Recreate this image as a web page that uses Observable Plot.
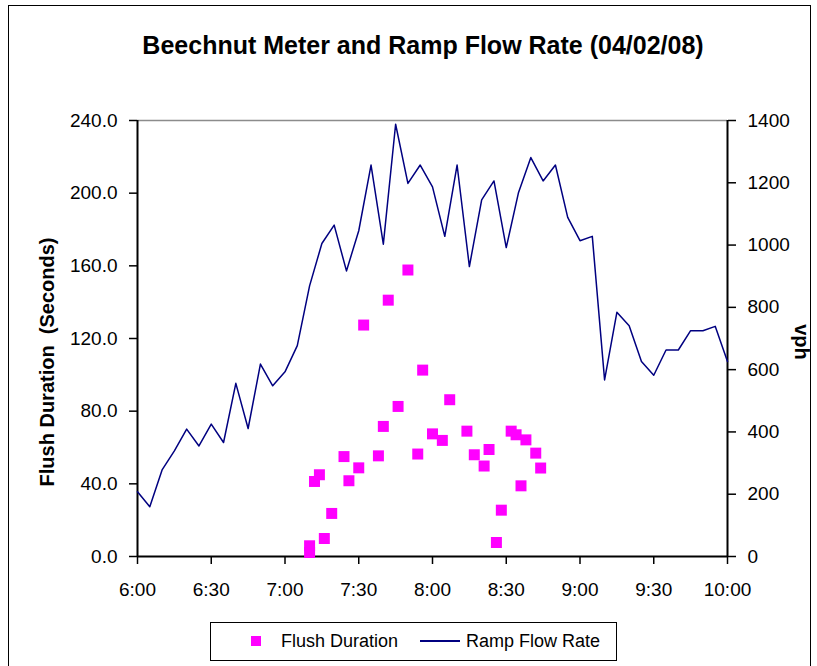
<!DOCTYPE html>
<html>
<head>
<meta charset="utf-8">
<script src="https://cdn.jsdelivr.net/npm/d3@7"></script>
<script src="https://cdn.jsdelivr.net/npm/@observablehq/plot@0.6"></script>
<style>
  html, body { margin: 0; padding: 0; background: #fff; }
  #wrap { position: relative; width: 817px; height: 666px; overflow: hidden; font-family: Arial, "Liberation Sans", sans-serif; }
  #frame { position: absolute; left: 8px; top: 5px; width: 803px; height: 700px; border: 1.5px solid #000; box-sizing: border-box; }
  #title { position: absolute; left: 137px; width: 572px; top: 33px; line-height: 25px; text-align: center; font-weight: bold; font-size: 25px; white-space: nowrap; }
  #ylab { position: absolute; left: 47px; top: 362px; transform: translate(-50%, -50%) rotate(-90deg); white-space: pre; font-weight: bold; font-size: 20px; }
  #y2lab { position: absolute; left: 801px; top: 342px; transform: translate(-50%, -50%) rotate(90deg); font-weight: bold; font-size: 20px; }
  #legend { position: absolute; left: 210px; top: 622px; width: 407px; height: 39px; border: 1.5px solid #000; box-sizing: border-box; font-size: 18px; }
  #legend .item { position: absolute; top: 0; height: 36px; display: flex; align-items: center; }
  #plot { position: absolute; left: 0; top: 0; }
</style>
</head>
<body>
<div id="wrap">
  <div id="frame"></div>
  <div id="plot"></div>
  <div id="title"></div>
  <div id="ylab"></div>
  <div id="y2lab"></div>
  <div id="legend"></div>
</div>
<script>
// ---- data ----
const titleText = "Beechnut Meter and Ramp Flow Rate (04/02/08)";
const leftTitle = "Flush Duration  (Seconds)";
const rightTitle = "vph";
const seriesNames = ["Flush Duration", "Ramp Flow Rate"];

const xTickLabels = ["6:00","6:30","7:00","7:30","8:00","8:30","9:00","9:30","10:00"];
const leftTicks = [0, 40, 80, 120, 160, 200, 240];
const rightTicks = [0, 200, 400, 600, 800, 1000, 1200, 1400];

const flowTimes = ["6:00","6:05","6:10","6:15","6:20","6:25","6:30","6:35","6:40","6:45",
  "6:50","6:55","7:00","7:05","7:10","7:15","7:20","7:25","7:30","7:35",
  "7:40","7:45","7:50","7:55","8:00","8:05","8:10","8:15","8:20","8:25",
  "8:30","8:35","8:40","8:45","8:50","8:55","9:00","9:05","9:10","9:15",
  "9:20","9:25","9:30","9:35","9:40","9:45","9:50","9:55","10:00"];
const flowValues = [208,160,278,339,409,355,425,366,556,411,
  618,548,593,677,869,1005,1064,917,1046,1257,
  1003,1388,1198,1257,1187,1028,1257,931,1145,1206,
  992,1169,1281,1206,1257,1089,1014,1028,567,784,
  741,626,582,663,663,725,725,739,626];

const flushTimes = ["7:10","7:10","7:12","7:14","7:16","7:19","7:24","7:26","7:30","7:32",
  "7:38","7:40","7:42","7:46","7:50","7:54","7:56","8:00","8:04","8:07",
  "8:14","8:17","8:21","8:23","8:26","8:28","8:32","8:34","8:36","8:38",
  "8:42","8:44"];
const flushValues = [2.2,5.9,41.3,45.0,9.9,23.7,55.0,41.7,48.8,127.4,
  55.4,71.6,141.1,82.6,157.7,56.4,102.6,67.5,63.9,86.3,
  69.0,56.0,49.8,58.9,7.7,25.5,69.0,67.0,38.9,64.2,
  56.9,48.7];

// ---- helpers ----
const toMin = s => { const [h, m] = s.split(":").map(Number); return (h - 6) * 60 + m; };
const fmt = m => `${6 + Math.floor(m / 60)}:${String(m % 60).padStart(2, "0")}`;
const leftMax = leftTicks[leftTicks.length - 1];
const rightMax = rightTicks[rightTicks.length - 1];
const toLeft = v => v * leftMax / rightMax;

const flowData = flowTimes.map((t, i) => ({t: toMin(t), v: flowValues[i]}));
const flushData = flushTimes.map((t, i) => ({t: toMin(t), v: flushValues[i]}));
const xTicks = xTickLabels.map(toMin);
const xMin = xTicks[0], xMax = xTicks[xTicks.length - 1];

const chart = Plot.plot({
  width: 817,
  height: 666,
  marginLeft: 137,
  marginRight: 90,
  marginTop: 120,
  marginBottom: 110,
  x: {domain: [xMin, xMax]},
  y: {domain: [0, leftMax]},
  style: {fontFamily: "Arial, 'Liberation Sans', sans-serif", fontSize: "19px", color: "#000", background: "transparent", overflow: "visible"},
  marks: [
    Plot.ruleY([leftMax], {stroke: "#8c8c8c", strokeWidth: 1.5}),
    Plot.axisX({ticks: xTicks, tickFormat: fmt, tickSize: 8, tickPadding: 18, strokeWidth: 1.5, label: null}),
    Plot.axisY({anchor: "left", ticks: leftTicks, tickFormat: d => d.toFixed(1), tickSize: 8, tickPadding: 12, strokeWidth: 1.5, label: null}),
    Plot.axisY({anchor: "right", ticks: rightTicks.map(toLeft), tickFormat: d => String(Math.round(d * rightMax / leftMax)), tickSize: 8, tickPadding: 12, strokeWidth: 1.5, label: null}),
    Plot.ruleX([xMin, xMax], {stroke: "#000", strokeWidth: 2}),
    Plot.ruleY([0], {stroke: "#000", strokeWidth: 2}),
    Plot.line(flowData, {x: "t", y: d => toLeft(d.v), stroke: "#000080", strokeWidth: 1.5}),
    Plot.dot(flushData, {x: "t", y: "v", symbol: "square", r: 6.2, fill: "#FF00FF", stroke: "none"})
  ]
});
document.getElementById("plot").appendChild(chart);

document.getElementById("title").textContent = titleText;
document.getElementById("ylab").textContent = leftTitle;
document.getElementById("y2lab").textContent = rightTitle;

const legend = document.getElementById("legend");
legend.innerHTML = `
  <div class="item" style="left:40px"><span style="display:inline-block;width:10px;height:10px;background:#FF00FF;margin-right:20px"></span><span>${seriesNames[0]}</span></div>
  <div class="item" style="left:209px"><span style="display:inline-block;width:40px;height:0;border-top:2px solid #000080;margin-right:6px"></span><span>${seriesNames[1]}</span></div>`;
</script>
</body>
</html>
